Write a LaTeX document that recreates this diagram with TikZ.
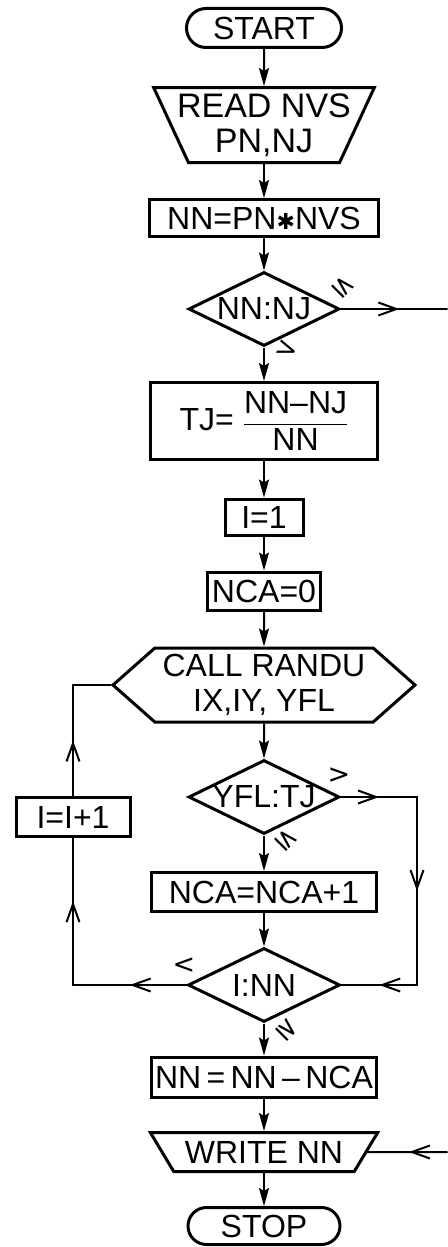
\documentclass[tikz,border=0pt]{standalone}
\usepackage{amsmath}
\usepackage{fontspec}
\setmainfont{Liberation Sans}
\newfontfamily\condfont{DejaVu Sans}
\usetikzlibrary{shapes.geometric,shapes.misc,shapes.symbols,arrows.meta,decorations.markings}

\begin{document}
\begin{tikzpicture}[x=1pt, y=-1pt, every node/.style={font=\fontsize{32}{35}\selectfont, inner sep=0pt}, term/.style={rounded rectangle, draw, line width=3pt, minimum width=155pt, minimum height=39pt}, io/.style={trapezium, shape border rotate=180, trapezium stretches=true, draw, line width=3pt}, proc/.style={rectangle, draw, line width=3pt}, test/.style={diamond, draw, line width=3pt, minimum width=151pt, minimum height=74pt}, sub/.style={signal, signal to=west and east, signal pointer angle=83, draw, line width=3pt, minimum width=302pt, minimum height=74pt, align=center}, cond/.style={font=\condfont\fontsize{27}{27}\selectfont}, arr/.style={line width=2pt, -{Stealth[length=18pt, width=10pt, inset=3pt]}}, line/.style={line width=2pt, line cap=round}, midarr/.style={line, postaction={decorate}, decoration={markings, mark=at position #1 with {\arrow{Straight Barb[length=18pt, width=13pt]}}}}, midarr/.default=0.5]
    \useasboundingbox (0,0) rectangle (447,1247);
    \node[term] (start) at (264,28) {START};
    \node[io, minimum width=221pt, minimum height=75pt, trapezium left angle=64, trapezium right angle=64, inner xsep=-20pt, align=center, font=\fontsize{34}{35}\selectfont] (read) at (264,125) {READ NVS\\PN,NJ};
    \node[proc, minimum width=229pt, minimum height=37pt] (calc) at (264,218) {NN=PN{\condfont\fontsize{22}{22}\selectfont ✱}NVS};
    \node[test] (nnnj) at (264,309) {\makebox[0pt]{NN:NJ}};
    \node[proc, minimum width=227pt, minimum height=77pt] (frac) at (264,421) {TJ= $\dfrac{\text{NN–NJ}}{\text{NN}}$};
    \node[proc, minimum width=78pt, minimum height=36pt] (ione) at (264,517) {I=1};
    \node[proc, minimum width=113pt, minimum height=38pt] (nzero) at (264,591) {NCA=0};
    \node[sub] (randu) at (264,685) {CALL RANDU\\IX,IY, YFL};
    \node[test] (yfltj) at (264,797) {\makebox[0pt]{YFL:TJ}};
    \node[proc, minimum width=114pt, minimum height=39pt] (inc) at (73,817) {I=I+1};
    \node[proc, minimum width=225pt, minimum height=39pt] (count) at (264,892) {NCA=NCA+1};
    \node[test, minimum width=152pt] (inn) at (264,985) {\makebox[0pt]{I:NN}};
    \node[proc, minimum width=225pt, minimum height=40pt] (upd) at (264,1077) {NN\,=\,NN\,–\,NCA};
    \node[io, minimum width=228pt, minimum height=39pt, trapezium left angle=47, trapezium right angle=47] (write) at (264,1152) {WRITE NN};
    \node[term, minimum width=152pt, minimum height=37pt] (stop) at (264,1226) {STOP};
    \node[cond, rotate=-45] (c1) at (343,287) {≤};
    \node[cond, rotate=-20] (c2) at (287,350) {>};
    \node[cond] (c3) at (339,776) {>};
    \node[cond, rotate=-45] (c4) at (286,840) {≤};
    \node[cond] (c5) at (184,966) {<};
    \node[cond, rotate=-45] (c6) at (287,1030) {≥};
    \coordinate (nnout) at (447,309);
    \coordinate (wrin) at (447,1152);
    \coordinate (ra) at (417,797);
    \coordinate (rb) at (417,985);
    \coordinate (la) at (73,985);
    \coordinate (lb) at (73,685);
    \draw[arr] (start) -- (read);
    \draw[arr] (read) -- (calc);
    \draw[arr] (calc) -- (nnnj);
    \draw[arr] (nnnj) -- (frac);
    \draw[arr] (frac) -- (ione);
    \draw[arr] (ione) -- (nzero);
    \draw[arr] (nzero) -- (randu);
    \draw[arr] (randu) -- (yfltj);
    \draw[arr] (yfltj) -- (count);
    \draw[arr] (count) -- (inn);
    \draw[arr] (inn) -- (upd);
    \draw[arr] (upd) -- (write);
    \draw[arr] (write) -- (stop);
    \draw[midarr=0.55] (nnnj.east) -- (nnout);
    \draw[midarr=0.48] (wrin) -- (write.east);
    \draw[midarr] (yfltj.east) -- (ra);
    \draw[midarr] (ra) -- (rb);
    \draw[midarr] (rb) -- (inn.east);
    \draw[midarr] (inn.west) -- (la);
    \draw[midarr=0.57] (la) -- (inc);
    \draw[midarr] (inc) -- (lb);
    \draw[line] (lb) -- (randu.west);
  \end{tikzpicture}
\end{document}
